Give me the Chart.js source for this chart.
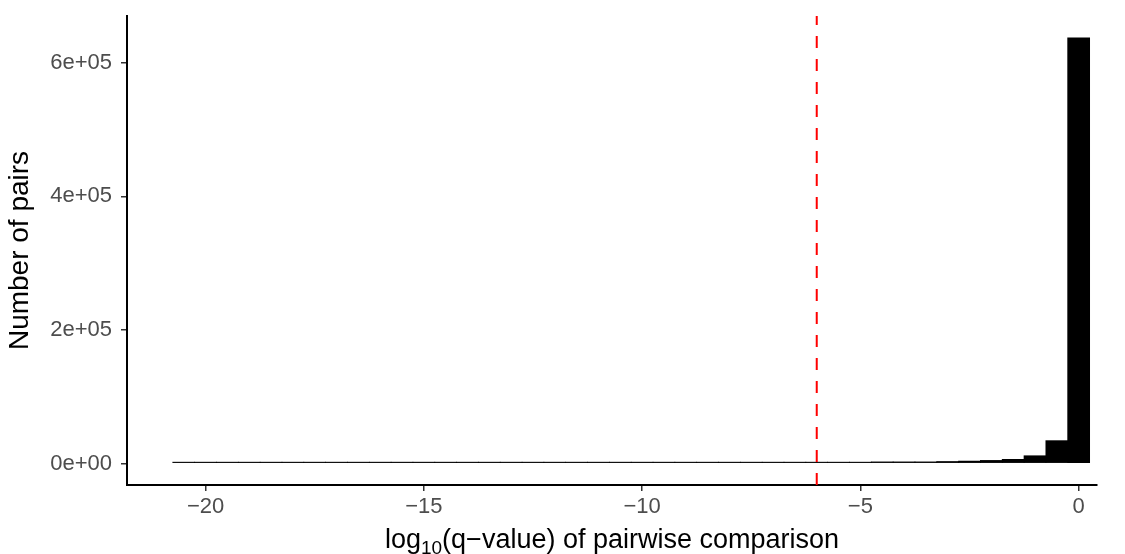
<!DOCTYPE html>
<html>
<head>
<meta charset="utf-8">
<script src="https://cdn.jsdelivr.net/npm/chart.js@4.4.0/dist/chart.umd.min.js"></script>
<style>
html, body { margin: 0; padding: 0; background: #fff; }
#wrap { width: 1125px; height: 554px; position: relative; }
</style>
</head>
<body>
<div id="wrap"><canvas id="chart1"></canvas></div>
<script>
// histogram bins: centre of each bin (width 0.5) and number of pairs in it
var binCentres = [
    -20.5, -20, -19.5, -19, -18.5, -18, -17.5, -17, -16.5, -16, -15.5,
    -15, -14.5, -14, -13.5, -13, -12.5, -12, -11.5, -11, -10.5, -10,
    -9.5, -9, -8.5, -8, -7.5, -7, -6.5, -6, -5.5, -5, -4.5, -4, -3.5,
    -3, -2.5, -2, -1.5, -1, -0.5, 0
];
var pairCounts = [
    2800, 2800, 2800, 2800, 2800, 2800, 2800, 2800, 2800, 2800, 2800,
    2800, 2800, 2800, 2800, 2800, 2800, 2800, 2800, 2800, 2800, 2800,
    2800, 2800, 2800, 2800, 2800, 2800, 2800, 2800, 2800, 2800, 3200, 3200, 3200,
    3800, 4400, 5400, 7000, 12400, 35000, 638000
];
var xTicks = [-20, -15, -10, -5, 0];
var yTicks = [0, 200000, 400000, 600000];
var cutoff = -6;   // log10(q) threshold

var fontFamily = "'Liberation Sans', Arial, sans-serif";

function sciLabel(v) {
    if (v === 0) return '0e+00';
    var e = Math.floor(Math.log10(Math.abs(v)));
    var m = Math.round(v / Math.pow(10, e) * 100) / 100;
    return m + 'e+' + (e < 10 ? '0' : '') + e;
}

// dashed red threshold line
var cutoffLine = {
    id: 'cutoffLine',
    afterDatasetsDraw: function(chart) {
        var ctx = chart.ctx, area = chart.chartArea;
        var x = chart.scales.x.getPixelForValue(cutoff);
        ctx.save();
        ctx.strokeStyle = '#FF0000';
        ctx.lineWidth = 2;
        ctx.setLineDash([12, 11]);
        ctx.beginPath();
        ctx.moveTo(x, area.bottom);
        ctx.lineTo(x, area.top);
        ctx.stroke();
        ctx.restore();
    }
};

// x axis title with subscript 10
var xTitle = {
    id: 'xTitle',
    afterDraw: function(chart) {
        var ctx = chart.ctx, area = chart.chartArea;
        var big = '27px ' + fontFamily, small = '19px ' + fontFamily;
        var a = 'log', b = '10', c = '(q\u2212value) of pairwise comparison';
        ctx.save();
        ctx.fillStyle = '#000';
        ctx.textBaseline = 'alphabetic';
        ctx.font = big;
        var wa = ctx.measureText(a).width, wc = ctx.measureText(c).width;
        ctx.font = small;
        var wb = ctx.measureText(b).width;
        var x = (area.left + area.right) / 2 - (wa + wb + wc) / 2;
        var y = 548;
        ctx.font = big;
        ctx.fillText(a, x, y);
        ctx.font = small;
        ctx.fillText(b, x + wa, y + 6);
        ctx.font = big;
        ctx.fillText(c, x + wa + wb, y);
        ctx.restore();
    }
};

var ctx = document.getElementById('chart1').getContext('2d');
var myChart = new Chart(ctx, {
    type: 'bar',
    data: {
        datasets: [{
            data: binCentres.map(function(x, i) { return { x: x, y: pairCounts[i] }; }),
            backgroundColor: '#000000',
            borderWidth: 0,
            barPercentage: 1.04,
            categoryPercentage: 1
        }]
    },
    options: {
        responsive: true,
        maintainAspectRatio: false,
        animation: false,
        layout: { padding: { top: 16, right: 28, left: 0, bottom: 0 } },
        plugins: {
            legend: { display: false },
            tooltip: { enabled: false }
        },
        scales: {
            x: {
                type: 'linear',
                min: -21.8,
                max: 0.42,
                offset: false,
                afterBuildTicks: function(s) { s.ticks = xTicks.map(function(v) { return { value: v }; }); },
                afterFit: function(s) { s.height = 69; s.paddingLeft = 0; s.paddingRight = 0; },
                grid: { offset: false, drawOnChartArea: false, drawTicks: true, tickLength: 6, color: '#333333', lineWidth: 1.5 },
                border: { display: true, color: '#000000', width: 2 },
                ticks: {
                    color: '#4D4D4D',
                    font: { family: fontFamily, size: 22 },
                    padding: 3,
                    maxRotation: 0,
                    callback: function(v) { return v < 0 ? '\u2212' + Math.abs(v) : String(v); }
                }
            },
            y: {
                min: -31900,
                max: 670000,
                afterBuildTicks: function(s) { s.ticks = yTicks.map(function(v) { return { value: v }; }); },
                afterFit: function(s) { s.width = 127; s.paddingTop = 0; s.paddingBottom = 0; },
                grid: { drawOnChartArea: false, drawTicks: true, tickLength: 6, color: '#333333', lineWidth: 1.5 },
                border: { display: true, color: '#000000', width: 2 },
                ticks: {
                    color: '#4D4D4D',
                    font: { family: fontFamily, size: 22 },
                    padding: 9,
                    callback: sciLabel
                },
                title: {
                    display: true,
                    text: 'Number of pairs',
                    color: '#000000',
                    font: { family: fontFamily, size: 28 },
                    padding: { top: 3, bottom: 0 }
                }
            }
        }
    },
    plugins: [cutoffLine, xTitle]
});
</script>
</body>
</html>
